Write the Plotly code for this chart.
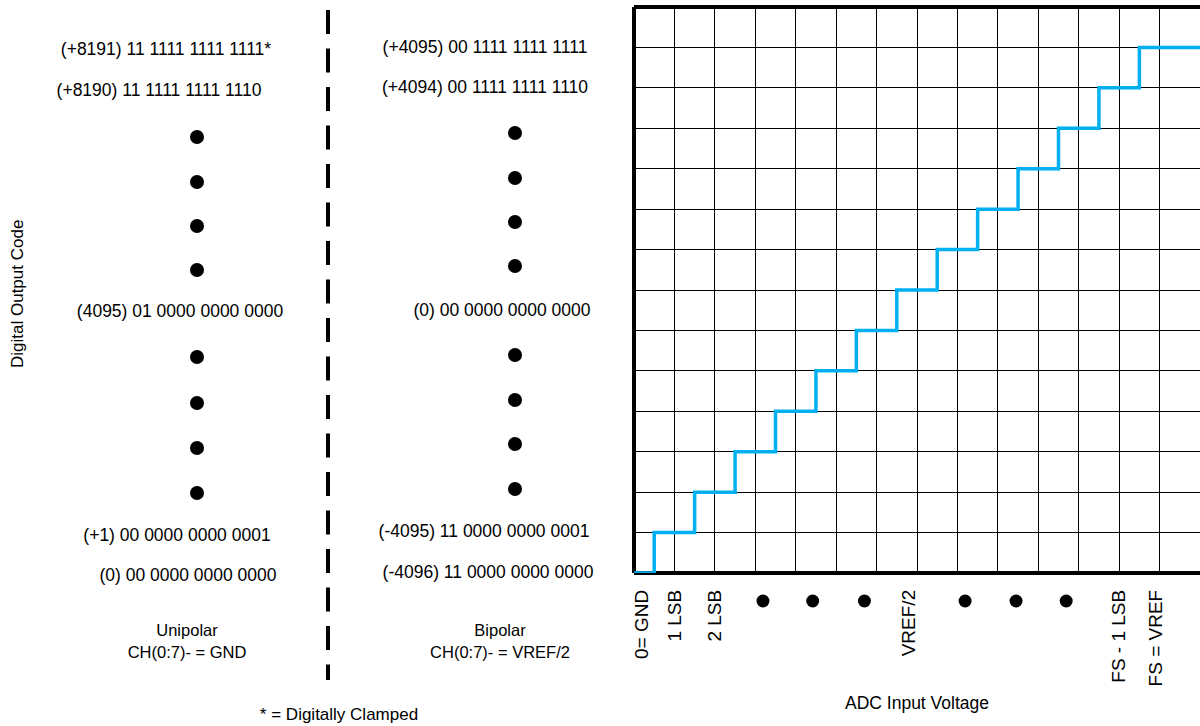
import plotly.graph_objects as go

# ---------------- data ----------------
# staircase transfer function (transition points in LSB units, output code level)
step_x = [0, 0.5, 1.5, 2.5, 3.5, 4.5, 5.5, 6.5, 7.5, 8.5, 9.5, 10.5, 11.5, 12.5, 14]
step_code = [0, 1, 2, 3, 4, 5, 6, 7, 8, 9, 10, 11, 12, 13, 13]

# x-axis tick labels
xtick_labels = ["0= GND", "1 LSB", "2 LSB", "VREF/2", "FS - 1 LSB", "FS = VREF"]
xtick_vals = [0.2, 1, 2, 6.8, 12, 12.9]
# ellipsis dots along the x axis
xdot_vals = [3.19, 4.42, 5.7, 8.19, 9.45, 10.69]

# output code tables
unipolar_labels = [
    "(+8191) 11 1111 1111 1111*",
    "(+8190) 11 1111 1111 1110",
    "(4095) 01 0000 0000 0000",
    "(+1) 00 0000 0000 0001",
    "(0) 00 0000 0000 0000",
]
bipolar_labels = [
    "(+4095) 00 1111 1111 1111",
    "(+4094) 00 1111 1111 1110",
    "(0) 00 0000 0000 0000",
    "(-4095) 11 0000 0000 0001",
    "(-4096) 11 0000 0000 0000",
]
mode_labels = ["Unipolar<br>CH(0:7)- = GND", "Bipolar<br>CH(0:7)- = VREF/2"]
footnote = "* = Digitally Clamped"

# ---------------- layout constants (pixel positions) ----------------
W, H = 1200, 726
uni_x = [166, 159, 180, 177, 188]
uni_y = [51, 92, 313, 537, 577]
bi_x = [485, 485, 502, 484, 488]
bi_y = [49, 89, 312, 533, 574]
uni_dot_x, uni_dot_y = 197, [137, 182, 226, 270, 357, 403, 448, 493]
bi_dot_x, bi_dot_y = 515, [133, 178, 222, 266, 355, 400, 444, 489]
mode_x, mode_y = [187, 500], [643, 643]
div_x, div_y = 328, [10, 680]
xdot_y = 601

plot_left, plot_right = 634, 1200
plot_top, plot_bottom = 7, 573

FONT = "Liberation Sans, Arial, sans-serif"
BLUE = "#00B0F0"

fig = go.Figure()

# staircase
fig.add_trace(go.Scatter(
    x=step_x, y=step_code, mode="lines", line=dict(color=BLUE, width=3.5, shape="hv"),
    xaxis="x", yaxis="y", showlegend=False, hoverinfo="skip", cliponaxis=False))

# dots under x axis (x on an axis matched to the main x, y in pixel helper axis)
fig.add_trace(go.Scatter(
    x=xdot_vals, y=[xdot_y] * len(xdot_vals), mode="markers",
    marker=dict(color="black", size=13), xaxis="x3", yaxis="y3",
    showlegend=False, cliponaxis=False, hoverinfo="skip"))

# left panel: code tables
fig.add_trace(go.Scatter(
    x=uni_x + bi_x, y=uni_y + bi_y, mode="text", text=unipolar_labels + bipolar_labels,
    textfont=dict(family=FONT, size=17.5, color="black"), textposition="middle center",
    xaxis="x2", yaxis="y2", showlegend=False, cliponaxis=False, hoverinfo="skip"))
fig.add_trace(go.Scatter(
    x=[uni_dot_x] * len(uni_dot_y) + [bi_dot_x] * len(bi_dot_y), y=uni_dot_y + bi_dot_y,
    mode="markers", marker=dict(color="black", size=14),
    xaxis="x2", yaxis="y2", showlegend=False, cliponaxis=False, hoverinfo="skip"))
fig.add_trace(go.Scatter(
    x=mode_x, y=mode_y, mode="text", text=mode_labels,
    textfont=dict(family=FONT, size=16.5, color="black"), textposition="middle center",
    xaxis="x2", yaxis="y2", showlegend=False, cliponaxis=False, hoverinfo="skip"))
fig.add_trace(go.Scatter(
    x=[339], y=[716], mode="text", text=[footnote],
    textfont=dict(family=FONT, size=17, color="black"), textposition="middle center",
    xaxis="x2", yaxis="y2", showlegend=False, cliponaxis=False, hoverinfo="skip"))
# dashed divider
fig.add_trace(go.Scatter(
    x=[div_x, div_x], y=div_y, mode="lines", line=dict(color="black", width=4, dash="24px,14.5px"),
    xaxis="x2", yaxis="y2", showlegend=False, cliponaxis=False, hoverinfo="skip"))

border = dict(color="black", width=4)
fig.update_layout(
    width=W, height=H, margin=dict(l=0, r=0, t=0, b=0),
    paper_bgcolor="white", plot_bgcolor="rgba(0,0,0,0)",
    font=dict(family=FONT, size=16, color="black"),
    xaxis=dict(
        domain=[plot_left / W, plot_right / W], range=[0, 14], anchor="y",
        tickmode="array", tickvals=xtick_vals, ticktext=xtick_labels, tickangle=-90,
        tickfont=dict(family=FONT, size=19, color="black"), ticks="", ticklabelstandoff=12,
        showgrid=False, zeroline=False,
        minor=dict(dtick=1, tick0=0, showgrid=True, gridcolor="black", gridwidth=1, ticks=""),
        showline=False,
        title=dict(text="ADC Input Voltage", font=dict(family=FONT, size=17.5, color="black"), standoff=11),
        automargin=False,
    ),
    yaxis=dict(
        domain=[(H - plot_bottom) / H, (H - plot_top) / H], range=[0, 14], anchor="x",
        dtick=1, tick0=0, showticklabels=False, ticks="", showgrid=True,
        gridcolor="black", gridwidth=1, zeroline=False, showline=False, automargin=False,
    ),
    xaxis2=dict(domain=[0, 0.52], range=[0, 624], anchor="y2", visible=False),
    yaxis2=dict(domain=[0, 1], range=[H, 0], anchor="x2", visible=False),
    xaxis3=dict(domain=[plot_left / W, plot_right / W], range=[0, 14], matches="x", anchor="y3",
                visible=False, showgrid=False, zeroline=False),
    yaxis3=dict(domain=[0, 1], range=[H, 0], anchor="x3",
                visible=False, showgrid=False, zeroline=False),
    shapes=[
        dict(type="line", xref="x domain", yref="y domain", x0=0, x1=0, y0=0, y1=1, line=border, layer="below"),
        dict(type="line", xref="x domain", yref="y domain", x0=0, x1=1, y0=0, y1=0, line=border, layer="below"),
        dict(type="line", xref="x domain", yref="y domain", x0=0, x1=1, y0=1, y1=1, line=border, layer="below"),
    ],
    annotations=[dict(
        text="Digital Output Code", x=17 / W, y=(H - 294) / H, xref="paper", yref="paper",
        textangle=-90, showarrow=False, font=dict(family=FONT, size=17, color="black"),
        xanchor="center", yanchor="middle")],
)

fig.write_html(
    "out.html",
    config={"displayModeBar": False},
    post_script="document.body.style.margin='0';document.body.style.overflow='hidden';",
)
